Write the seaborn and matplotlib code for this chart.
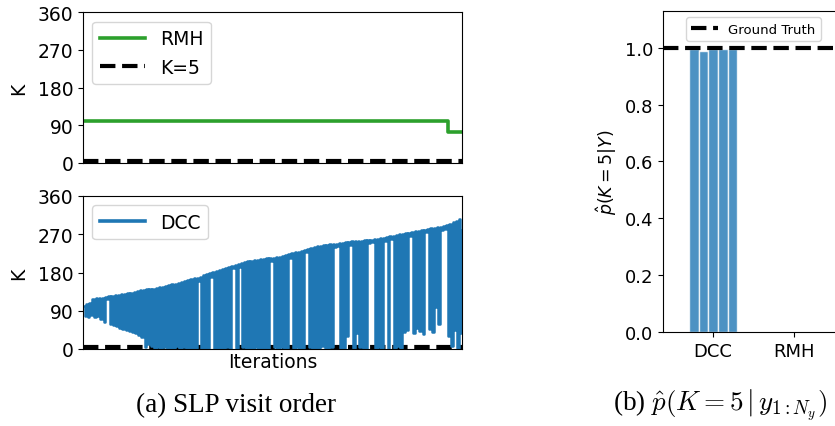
import numpy as np
import pandas as pd
import matplotlib
matplotlib.use("Agg")
import matplotlib.pyplot as plt
import seaborn as sns

# ---------------- data ----------------
# DCC trace: alternating visits (high SLP index, low SLP index)
dcc_high = [102, 105, 108, 118, 119, 120, 121, 122, 124, 125,
            126, 127, 129, 130, 131, 132, 134, 136, 138, 140,
            141, 141, 142, 143, 145, 146, 148, 150, 152, 154,
            156, 158, 160, 162, 164, 166, 168, 170, 173, 176,
            178, 181, 184, 186, 188, 191, 193, 195, 197, 199,
            202, 204, 206, 208, 209, 210, 211, 212, 213, 214,
            215, 216, 217, 218, 221, 224, 226, 228, 229, 231,
            233, 236, 238, 240, 242, 243, 244, 245, 246, 247,
            248, 249, 250, 251, 252, 253, 254, 254, 255, 256,
            256, 257, 258, 259, 261, 262, 263, 265, 267, 268,
            270, 271, 273, 274, 276, 277, 278, 280, 281, 282,
            284, 285, 287, 288, 290, 292, 295, 298, 301, 305]
dcc_low = [78, 76, 80, 75, 77, 70, 64, 118, 60, 57,
           54, 50, 48, 45, 43, 40, 37, 33, 28, 4,
           12, 6, 3, 4, 2, 5, 1, 3, 2, 6,
           1, 4, 2, 3, 2, 2, 160, 1, 3, 2,
           170, 1, 3, 2, 2, 4, 1, 190, 3, 192,
           5, 1, 3, 2, 4, 2, 2, 3, 1, 208,
           4, 2, 5, 1, 3, 215, 2, 4, 1, 3,
           228, 5, 1, 3, 2, 6, 2, 3, 4, 240,
           242, 3, 2, 30, 245, 2, 38, 4, 3, 1,
           250, 252, 2, 5, 3, 255, 1, 258, 2, 6,
           3, 40, 45, 265, 38, 50, 42, 36, 275, 48,
           40, 100, 60, 280, 282, 30, 8, 45, 3, 38]
dcc_last = 280

# RMH trace: step values at change points
rmh_iter = [0, 231, 240]
rmh_k = [101, 73, 73]
true_k = 5

# posterior estimates of K=5 for 5 runs per method
methods = ["DCC", "RMH"]
dcc_runs = [0.995, 0.990, 0.997, 0.997, 0.996]
rmh_runs = [0.0, 0.0, 0.0, 0.0, 0.0]
ground_truth = 1.0

# ---------------- build tables ----------------
dcc_k = []
for h, l in zip(dcc_high, dcc_low):
    dcc_k += [h, l]
dcc_k.append(dcc_last)
dcc_df = pd.DataFrame({"iter": np.arange(len(dcc_k)), "K": dcc_k})
n_iter = len(dcc_k) - 1
rmh_df = pd.DataFrame({"iter": rmh_iter, "K": rmh_k})

bar_df = pd.DataFrame({
    "method": ["DCC"] * len(dcc_runs) + ["RMH"] * len(rmh_runs),
    "run": list(range(len(dcc_runs))) + list(range(len(rmh_runs))),
    "p": dcc_runs + rmh_runs,
})

# ---------------- figure ----------------
W, H = 835, 427
fig = plt.figure(figsize=(W / 100, H / 100), dpi=100)

def box(l, t, r, b):
    return [l / W, 1 - b / H, (r - l) / W, (b - t) / H]

ax_top = fig.add_axes(box(83, 13.3, 462, 164))
ax_bot = fig.add_axes(box(83, 197, 462, 350))
ax_bar = fig.add_axes(box(663, 11.7, 844, 333))

fs = 13.5
green = "#2ca02c"
blue = "#1f77b4"

# top: RMH
sns.lineplot(data=rmh_df, x="iter", y="K", ax=ax_top, color=green, lw=2.6,
             drawstyle="steps-post", label="RMH", sort=False, estimator=None)
ax_top.axhline(true_k, color="black", lw=3, ls="--", label="K=5")

# bottom: DCC
ax_bot.axhline(true_k, color="black", lw=3, ls="--", zorder=1)
sns.lineplot(data=dcc_df, x="iter", y="K", ax=ax_bot, color=blue, lw=1.8,
             drawstyle="steps-post", label="DCC", sort=False, estimator=None,
             zorder=2)

for ax in (ax_top, ax_bot):
    ax.set_xlim(0, n_iter)
    ax.set_ylim(0, 360)
    ax.set_yticks([0, 90, 180, 270, 360])
    ax.set_xticks([])
    ax.set_ylabel("K", fontsize=fs)
    ax.tick_params(axis="y", labelsize=fs)
    ax.set_xlabel("")
    ax.yaxis.set_label_coords(-0.145, 0.5)
ax_top.legend(loc="upper left", fontsize=fs, handlelength=2.4)
leg = ax_bot.legend(loc="upper left", fontsize=fs, handlelength=2.4)
for line in leg.get_lines():
    line.set_linewidth(2.6)
ax_bot.set_xlabel("Iterations", fontsize=fs, labelpad=2)

# right: bars
sns.barplot(data=bar_df, x="method", y="p", hue="run", ax=ax_bar,
            palette=[blue] * len(dcc_runs), saturation=1, width=0.6,
            alpha=0.8, edgecolor="white", linewidth=1, legend=False)
ax_bar.axhline(ground_truth, color="black", lw=3, ls="--", label="Ground Truth")
ax_bar.set_xlim(-0.62, 1.62)
ax_bar.set_ylim(0, 1.13)
ax_bar.set_yticks([0.0, 0.2, 0.4, 0.6, 0.8, 1.0])
ax_bar.set_yticklabels(["0.0", "0.2", "0.4", "0.6", "0.8", "1.0"])
ax_bar.tick_params(labelsize=13)
ax_bar.set_xlabel("")
ax_bar.set_ylabel(r"$\hat{p}(K=5|Y)$", fontsize=12.5)
ax_bar.legend(loc="upper center", fontsize=9.5, handlelength=2.0)

# captions
fig.text(236 / W, 1 - 406 / H, "(a) SLP visit order", ha="center", va="center",
         fontsize=19.5, family="Liberation Serif")
fig.text(720 / W, 1 - 406 / H, r"(b) $\hat{p}(K=5\,|\,y_{1:N_y})$", ha="center",
         va="center", fontsize=19.5, family="Liberation Serif", math_fontfamily="cm")

fig.savefig("out.png", dpi=100)
